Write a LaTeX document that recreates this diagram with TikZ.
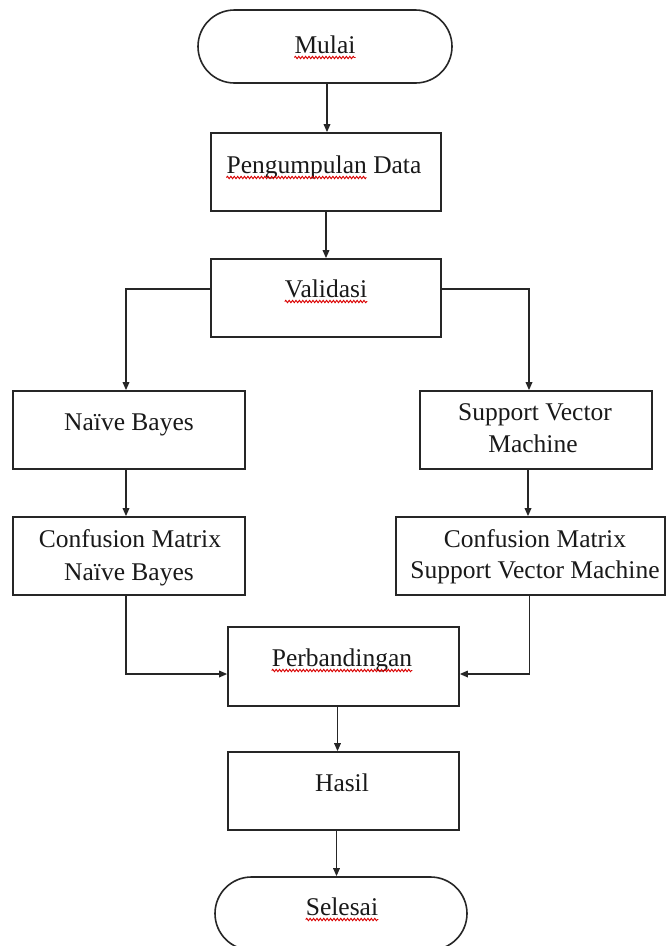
\documentclass[tikz,border=0pt]{standalone}
\usepackage{fontspec}
\setmainfont{Liberation Serif}
\usetikzlibrary{arrows.meta,shapes.misc,decorations.pathmorphing}
\tikzset{
  box/.style={draw=black!85, line width=1.6pt, rectangle, inner sep=0pt, minimum height=78pt},
  term/.style={draw=black!85, line width=1.6pt, rounded rectangle, inner sep=0pt, minimum height=73pt},
  txt/.style={inner sep=0pt, anchor=base, text=black!90, font=\fontsize{25.5pt}{30pt}\selectfont},
  arr/.style={draw=black!85, line width=1.6pt, -{Triangle[length=8pt,width=6.5pt]}},
  wavy/.style={draw=red!85!black, line width=0.9pt, decorate, decoration={snake, amplitude=1.2pt, segment length=3.4pt}}
}
\begin{document}
\begin{tikzpicture}[x=1pt, y=-1pt]
\useasboundingbox (0,0) rectangle (667,946);
\clip (0,0) rectangle (667,946);
% shapes
\node[term, minimum width=254pt] (mulai) at (325,46.5) {};
\node[box, minimum width=230pt] (peng) at (326,172) {};
\node[box, minimum width=230pt] (val) at (326,298) {};
\node[box, minimum width=232pt] (nb) at (129,430) {};
\node[box, minimum width=232pt] (svm) at (536,430) {};
\node[box, minimum width=232pt] (cmnb) at (129,556) {};
\node[box, minimum width=269pt] (cmsvm) at (530.5,556) {};
\node[box, minimum width=231pt, minimum height=79pt] (perb) at (343.5,666.5) {};
\node[box, minimum width=231pt] (hasil) at (343.5,791) {};
\node[term, minimum width=252pt] (selesai) at (341,913.5) {};
% texts
\node[txt] (mulait) at (325,53) {Mulai};
\node[txt] (pengt) at (324,173) {Pengumpulan Data};
\node[txt] (valt) at (326,297) {Validasi};
\node[txt] (nbt) at (129,430) {Naïve Bayes};
\node[txt] (svmta) at (535,420) {Support Vector};
\node[txt] (svmtb) at (533,452) {Machine};
\node[txt] (cmnbta) at (130,547) {Confusion Matrix};
\node[txt] (cmnbtb) at (129,580) {Naïve Bayes};
\node[txt] (cmsvmta) at (535,547) {Confusion Matrix};
\node[txt] (cmsvmtb) at (535,578) {Support Vector Machine};
\node[txt] (perbt) at (342,666) {Perbandingan};
\node[txt] (hasilt) at (342,791) {Hasil};
\node[txt] (selesait) at (342,915) {Selesai};
% spell-check underlines
\draw[wavy] ([yshift=-4.5pt]mulait.base west) -- ([yshift=-4.5pt]mulait.base east);
\draw[wavy] ([yshift=-4.5pt]pengt.base west) -- ++(140,0);
\draw[wavy] ([yshift=-4.5pt]valt.base west) -- ([yshift=-4.5pt]valt.base east);
\draw[wavy] ([yshift=-4.5pt]perbt.base west) -- ([yshift=-4.5pt]perbt.base east);
\draw[wavy] ([yshift=-4.5pt]selesait.base west) -- ([yshift=-4.5pt]selesait.base east);
% connectors
\draw[arr] ([xshift=2pt]mulai.south) -- ([xshift=2pt]mulai.south |- peng.north);
\draw[arr] (peng.south) -- (peng.south |- val.north);
\draw[arr] ([yshift=9pt]val.west) -| ([xshift=-3pt]nb.north);
\draw[arr] ([yshift=9pt]val.east) -| ([xshift=-7pt]svm.north);
\draw[arr] ([xshift=-3pt]nb.south) -- ([xshift=-3pt]cmnb.north);
\draw[arr] ([xshift=-8pt]svm.south) -- ([xshift=-8pt]svm.south |- cmsvm.north);
\draw[arr] ([xshift=-3pt]cmnb.south) |- ([yshift=-7.5pt]perb.west);
\draw[arr] ([xshift=-1pt]cmsvm.south) |- ([yshift=-7.5pt]perb.east);
\draw[arr] ([xshift=-6pt]perb.south) -- ([xshift=-6pt]perb.south |- hasil.north);
\draw[arr] ([xshift=-7pt]hasil.south) -- ([xshift=-7pt]hasil.south |- selesai.north);
\end{tikzpicture}
\end{document}
